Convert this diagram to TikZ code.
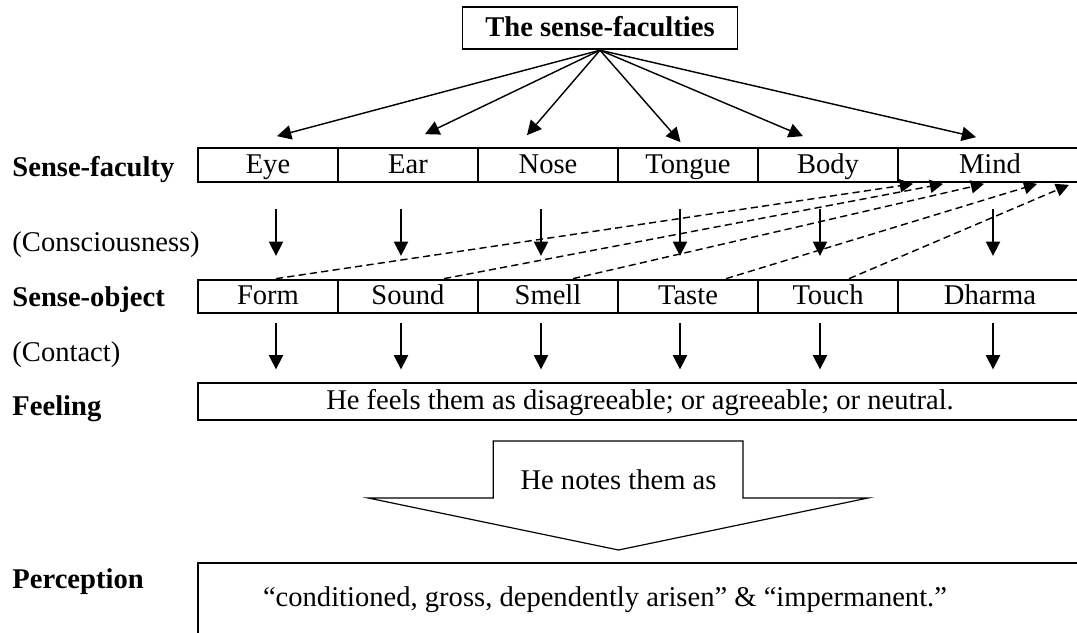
\documentclass[tikz,border=0pt,12pt]{standalone}
\usepackage{fontspec}
\setmainfont{Liberation Serif}
\usetikzlibrary{calc}
\usetikzlibrary{positioning}
\usetikzlibrary{arrows.meta}
\tikzstyle{topnode} = [draw, rectangle, minimum width=115.5pt, minimum height=17.6pt, inner sep=0pt, line width=0.8pt, font=\bfseries, text height=1.5ex, text depth=.25ex]
\tikzstyle{cellnode} = [draw, rectangle, minimum width=58.8pt, minimum height=14.2pt, inner sep=0pt, line width=0.8pt, text height=1.5ex, text depth=.25ex]
\tikzstyle{widenode} = [draw, rectangle, minimum width=77.3pt, minimum height=14.2pt, inner sep=0pt, line width=0.8pt, text height=1.5ex, text depth=.25ex]
\tikzstyle{boxnode} = [draw, rectangle, minimum width=371.3pt, inner sep=0pt, line width=0.8pt, text height=1.5ex, text depth=.25ex]
\tikzstyle{rowlabel} = [anchor=west, inner sep=0pt, font=\bfseries, text height=1.5ex, text depth=.25ex]
\tikzstyle{steplabel} = [anchor=west, inner sep=0pt, text height=1.5ex, text depth=.25ex]
\tikzstyle{fanarrow} = [-{Triangle[length=6pt,width=6pt]}, line width=0.6pt]
\tikzstyle{downarrow} = [-{Triangle[length=6pt,width=6pt]}, line width=0.6pt]
\tikzstyle{backarrow} = [-{Triangle[length=5.5pt,width=5.5pt]}, line width=0.6pt, dash pattern=on 3pt off 1.8pt]
\begin{document}
\begin{tikzpicture}[x=0.42pt, y=-0.42pt]
\useasboundingbox (0,0) rectangle (1077,632);
\node[topnode] (faculties) at (600,28.3) {The sense-faculties};

\node[cellnode] (eye) at (268,165) {Eye};
\node[cellnode] (ear) at ($(eye)+(140,0)$) {Ear};
\node[cellnode] (nose) at ($(ear)+(140,0)$) {Nose};
\node[cellnode] (tongue) at ($(nose)+(140,0)$) {Tongue};
\node[cellnode] (body) at ($(tongue)+(140,0)$) {Body};
\node[widenode] (mind) at ($(body)+(162,0)$) {Mind};

\node[cellnode] (form) at ($(eye)+(0,131.5)$) {Form};
\node[cellnode] (sound) at ($(form)+(140,0)$) {Sound};
\node[cellnode] (smell) at ($(sound)+(140,0)$) {Smell};
\node[cellnode] (taste) at ($(smell)+(140,0)$) {Taste};
\node[cellnode] (touch) at ($(taste)+(140,0)$) {Touch};
\node[widenode] (dharma) at ($(touch)+(162,0)$) {Dharma};

\node[boxnode, minimum height=15.4pt] (feeling) at (640,401.7) {He feels them as disagreeable; or agreeable; or neutral.};
\node (notes) at (618.5,480) {He notes them as};
\node[boxnode, minimum height=42pt] (perception) at (640,613.3) {};
\node (perceptiontext) at (605,600) {“conditioned, gross, dependently arisen” \& “impermanent.”};

\node[rowlabel] (lblfaculty) at (12,168) {Sense-faculty};
\node[steplabel] (lblconscious) at (12,243) {(Consciousness)};
\node[rowlabel] (lblobject) at (12,298) {Sense-object};
\node[steplabel] (lblcontact) at (12,353) {(Contact)};
\node[rowlabel] (lblfeeling) at (12,407) {Feeling};
\node[rowlabel] (lblperception) at (12,580) {Perception};

\draw[fanarrow] (faculties.south) -- ($(eye.north)+(9,-11)$);
\draw[fanarrow] (faculties.south) -- ($(ear.north)+(17,-13)$);
\draw[fanarrow] (faculties.south) -- ($(nose.north)+(-21,-12)$);
\draw[fanarrow] (faculties.south) -- ($(tongue.north)+(-7.5,-5)$);
\draw[fanarrow] (faculties.south) -- ($(body.north)+(-25,-11)$);
\draw[fanarrow] (faculties.south) -- ($(mind.north)+(-14,-10)$);

\draw[downarrow] ($(eye.south)+(8,26)$) -- ($(eye.south)+(8,73)$);
\draw[downarrow] ($(ear.south)+(-7,26)$) -- ($(ear.south)+(-7,73)$);
\draw[downarrow] ($(nose.south)+(-7,26)$) -- ($(nose.south)+(-7,73)$);
\draw[downarrow] ($(tongue.south)+(-8,26)$) -- ($(tongue.south)+(-8,73)$);
\draw[downarrow] ($(body.south)+(-8,26)$) -- ($(body.south)+(-8,73)$);
\draw[downarrow] ($(mind.south)+(3,26)$) -- ($(mind.south)+(3,73)$);

\draw[backarrow] ($(form.north)+(8,0)$) -- ($(mind.south)+(-77,1)$);
\draw[backarrow] ($(sound.north)+(36,0)$) -- ($(mind.south)+(-47,1)$);
\draw[backarrow] ($(smell.north)+(25,0)$) -- ($(mind.south)+(-6,1)$);
\draw[backarrow] ($(taste.north)+(38,0)$) -- ($(mind.south)+(47,1)$);
\draw[backarrow] ($(touch.north)+(21,0)$) -- ($(mind.south)+(79,2)$);

\draw[downarrow] ($(form.south)+(8,9)$) -- ($(form.south)+(8,55)$);
\draw[downarrow] ($(sound.south)+(-7,9)$) -- ($(sound.south)+(-7,55)$);
\draw[downarrow] ($(smell.south)+(-7,9)$) -- ($(smell.south)+(-7,55)$);
\draw[downarrow] ($(taste.south)+(-8,9)$) -- ($(taste.south)+(-8,55)$);
\draw[downarrow] ($(touch.south)+(-8,9)$) -- ($(touch.south)+(-8,55)$);
\draw[downarrow] ($(dharma.south)+(3,9)$) -- ($(dharma.south)+(3,55)$);

\draw[line width=0.5pt] ($(notes)+(-125.2,-39)$) -- ($(notes)+(124.5,-39)$) -- ($(notes)+(124.5,18)$) -- ($(notes)+(249.5,18)$) -- ($(notes)+(0,70)$) -- ($(notes)+(-250.2,18)$) -- ($(notes)+(-125.2,18)$) -- cycle;
\end{tikzpicture}
\end{document}
